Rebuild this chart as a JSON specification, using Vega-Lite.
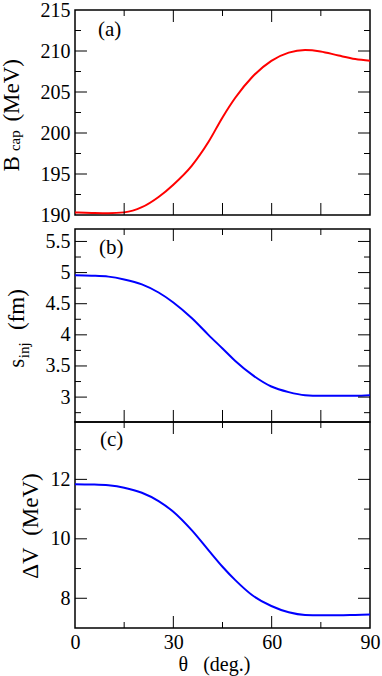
{
  "$schema": "https://vega.github.io/schema/vega-lite/v6.json",
  "padding": {"left": -1, "top": -1, "right": 2, "bottom": 0},
  "background": "white",
  "data": {"values": [
    {"theta": 0, "B": 190.3, "s": 4.957, "dV": 11.84},
    {"theta": 5.1, "B": 190.25, "s": 4.95, "dV": 11.83},
    {"theta": 10.2, "B": 190.22, "s": 4.935, "dV": 11.8},
    {"theta": 15, "B": 190.32, "s": 4.89, "dV": 11.72},
    {"theta": 20.4, "B": 190.95, "s": 4.81, "dV": 11.55},
    {"theta": 25.5, "B": 192.2, "s": 4.68, "dV": 11.27},
    {"theta": 30, "B": 193.7, "s": 4.52, "dV": 10.91},
    {"theta": 35.6, "B": 196.0, "s": 4.27, "dV": 10.29},
    {"theta": 40.7, "B": 198.9, "s": 4.0, "dV": 9.62},
    {"theta": 45, "B": 201.9, "s": 3.78, "dV": 9.06},
    {"theta": 48.9, "B": 204.3, "s": 3.58, "dV": 8.61},
    {"theta": 54, "B": 206.8, "s": 3.36, "dV": 8.11},
    {"theta": 59.9, "B": 208.8, "s": 3.17, "dV": 7.74},
    {"theta": 65.2, "B": 209.8, "s": 3.08, "dV": 7.53},
    {"theta": 70.2, "B": 210.12, "s": 3.03, "dV": 7.44},
    {"theta": 74.9, "B": 209.95, "s": 3.02, "dV": 7.43},
    {"theta": 80.4, "B": 209.45, "s": 3.02, "dV": 7.43},
    {"theta": 85.5, "B": 209.03, "s": 3.02, "dV": 7.44},
    {"theta": 90, "B": 208.82, "s": 3.03, "dV": 7.45}
  ]},
  "config": {
    "font": "Liberation Serif",
    "view": {"stroke": "black", "strokeWidth": 1.5},
    "point": {"filled": false, "stroke": "black", "strokeWidth": 1, "opacity": 1},
    "axis": {
      "labelFont": "Liberation Serif", "titleFont": "Liberation Serif",
      "labelColor": "black", "titleColor": "black",
      "titleFontWeight": "normal", "grid": false, "domain": false, "ticks": false,
      "labelFontSize": 20, "titleFontSize": 23
    }
  },
  "bounds": "flush",
  "spacing": 14,
  "vconcat": [
    {
      "width": 295, "height": 205,
      "resolve": {"axis": {"x": "independent", "y": "independent"}},
      "layer": [
        {
          "mark": {"type": "line", "color": "#ff0000", "strokeWidth": 2, "interpolate": "monotone"},
          "encoding": {
            "x": {"field": "theta", "type": "quantitative", "scale": {"domain": [0, 90], "nice": false, "zero": false}, "axis": null},
            "y": {"field": "B", "type": "quantitative", "scale": {"domain": [190, 215], "nice": false, "zero": false},
              "axis": {"orient": "left", "values": [190, 195, 200, 205, 210, 215], "labelPadding": 5,
                "title": "B\u00a0\u00a0\u00a0\u00a0\u00a0\u00a0(MeV)", "titleX": -56.7, "titleY": 104.7, "titleBaseline": "alphabetic", "titleAngle": 270, "titleAlign": "center"}}
          }
        },
        {
          "data": {"values": [{"value": 195}, {"value": 200}, {"value": 205}, {"value": 210}]},
          "mark": {"type": "point", "shape": "M-1,0L1,0", "size": 144, "filled": false, "stroke": "black", "strokeWidth": 1, "opacity": 1},
          "encoding": {
            "x": {"datum": 1.83, "type": "quantitative", "scale": {"domain": [0, 90], "nice": false, "zero": false}, "axis": null},
            "y": {"field": "value", "type": "quantitative", "scale": {"domain": [190, 215], "nice": false, "zero": false}, "axis": null}
          }
        },
        {
          "data": {"values": [{"value": 195}, {"value": 200}, {"value": 205}, {"value": 210}]},
          "mark": {"type": "point", "shape": "M-1,0L1,0", "size": 144, "filled": false, "stroke": "black", "strokeWidth": 1, "opacity": 1},
          "encoding": {
            "x": {"datum": 88.17, "type": "quantitative", "scale": {"domain": [0, 90], "nice": false, "zero": false}, "axis": null},
            "y": {"field": "value", "type": "quantitative", "scale": {"domain": [190, 215], "nice": false, "zero": false}, "axis": null}
          }
        },
        {
          "data": {"values": [{"value": 192.5}, {"value": 197.5}, {"value": 202.5}, {"value": 207.5}, {"value": 212.5}]},
          "mark": {"type": "point", "shape": "M-1,0L1,0", "size": 36, "filled": false, "stroke": "black", "strokeWidth": 1, "opacity": 1},
          "encoding": {
            "x": {"datum": 0.915, "type": "quantitative", "scale": {"domain": [0, 90], "nice": false, "zero": false}, "axis": null},
            "y": {"field": "value", "type": "quantitative", "scale": {"domain": [190, 215], "nice": false, "zero": false}, "axis": null}
          }
        },
        {
          "data": {"values": [{"value": 192.5}, {"value": 197.5}, {"value": 202.5}, {"value": 207.5}, {"value": 212.5}]},
          "mark": {"type": "point", "shape": "M-1,0L1,0", "size": 36, "filled": false, "stroke": "black", "strokeWidth": 1, "opacity": 1},
          "encoding": {
            "x": {"datum": 89.085, "type": "quantitative", "scale": {"domain": [0, 90], "nice": false, "zero": false}, "axis": null},
            "y": {"field": "value", "type": "quantitative", "scale": {"domain": [190, 215], "nice": false, "zero": false}, "axis": null}
          }
        },
        {
          "data": {"values": [{"value": 15}, {"value": 30}, {"value": 45}, {"value": 60}, {"value": 75}]},
          "mark": {"type": "point", "shape": "M0,-1L0,1", "size": 144, "filled": false, "stroke": "black", "strokeWidth": 1, "opacity": 1},
          "encoding": {
            "x": {"field": "value", "type": "quantitative", "scale": {"domain": [0, 90], "nice": false, "zero": false}, "axis": null},
            "y": {"datum": 190.732, "type": "quantitative", "scale": {"domain": [190, 215], "nice": false, "zero": false}, "axis": null}
          }
        },
        {
          "data": {"values": [{"value": 30}, {"value": 60}]},
          "mark": {"type": "point", "shape": "M0,-1L0,1", "size": 144, "filled": false, "stroke": "black", "strokeWidth": 1, "opacity": 1},
          "encoding": {
            "x": {"field": "value", "type": "quantitative", "scale": {"domain": [0, 90], "nice": false, "zero": false}, "axis": null},
            "y": {"datum": 214.268, "type": "quantitative", "scale": {"domain": [190, 215], "nice": false, "zero": false}, "axis": null}
          }
        },
        {
          "data": {"values": [{"value": 15}, {"value": 45}, {"value": 75}]},
          "mark": {"type": "point", "shape": "M0,-1L0,1", "size": 36, "filled": false, "stroke": "black", "strokeWidth": 1, "opacity": 1},
          "encoding": {
            "x": {"field": "value", "type": "quantitative", "scale": {"domain": [0, 90], "nice": false, "zero": false}, "axis": null},
            "y": {"datum": 214.634, "type": "quantitative", "scale": {"domain": [190, 215], "nice": false, "zero": false}, "axis": null}
          }
        },
        {
          "data": {"values": [{"label": "(a)"}]},
          "mark": {"type": "text", "font": "Liberation Serif", "fontSize": 21, "align": "left", "baseline": "middle", "color": "black"},
          "encoding": {
            "x": {"datum": 7.0, "type": "quantitative", "scale": {"domain": [0, 90], "nice": false, "zero": false}, "axis": null},
            "y": {"datum": 212.6, "type": "quantitative", "scale": {"domain": [190, 215], "nice": false, "zero": false}, "axis": null},
            "text": {"field": "label"}
          }
        },
        {
          "data": {"values": [{"label": "cap"}]},
          "mark": {"type": "text", "font": "Liberation Serif", "fontSize": 15, "align": "center", "baseline": "alphabetic", "angle": 270, "color": "black"},
          "encoding": {
            "x": {"datum": -16.66, "type": "quantitative", "scale": {"domain": [0, 90], "nice": false, "zero": false}, "axis": null},
            "y": {"datum": 199.06, "type": "quantitative", "scale": {"domain": [190, 215], "nice": false, "zero": false}, "axis": null},
            "text": {"field": "label"}
          }
        }
      ]
    },
    {
      "bounds": "flush",
      "spacing": 0,
      "vconcat": [
        {
          "width": 295, "height": 193,
          "resolve": {"axis": {"x": "independent", "y": "independent"}},
          "layer": [
            {
              "mark": {"type": "line", "color": "#0000ff", "strokeWidth": 2, "interpolate": "monotone"},
              "encoding": {
                "x": {"field": "theta", "type": "quantitative", "scale": {"domain": [0, 90], "nice": false, "zero": false}, "axis": null},
                "y": {"field": "s", "type": "quantitative", "scale": {"domain": [2.6, 5.7], "nice": false, "zero": false},
                  "axis": {"orient": "left", "values": [3, 3.5, 4, 4.5, 5, 5.5], "format": "~g", "labelPadding": 5,
                    "title": "s\u00a0\u00a0\u00a0\u00a0\u00a0(fm)", "titleX": -52, "titleY": 99, "titleBaseline": "alphabetic", "titleAngle": 270, "titleAlign": "center"}}
              }
            },
            {
              "data": {"values": [{"value": 3}, {"value": 3.5}, {"value": 4}, {"value": 4.5}, {"value": 5}, {"value": 5.5}]},
              "mark": {"type": "point", "shape": "M-1,0L1,0", "size": 144, "filled": false, "stroke": "black", "strokeWidth": 1, "opacity": 1},
              "encoding": {
                "x": {"datum": 1.83, "type": "quantitative", "scale": {"domain": [0, 90], "nice": false, "zero": false}, "axis": null},
                "y": {"field": "value", "type": "quantitative", "scale": {"domain": [2.6, 5.7], "nice": false, "zero": false}, "axis": null}
              }
            },
            {
              "data": {"values": [{"value": 3}, {"value": 3.5}, {"value": 4}, {"value": 4.5}, {"value": 5}, {"value": 5.5}]},
              "mark": {"type": "point", "shape": "M-1,0L1,0", "size": 144, "filled": false, "stroke": "black", "strokeWidth": 1, "opacity": 1},
              "encoding": {
                "x": {"datum": 88.17, "type": "quantitative", "scale": {"domain": [0, 90], "nice": false, "zero": false}, "axis": null},
                "y": {"field": "value", "type": "quantitative", "scale": {"domain": [2.6, 5.7], "nice": false, "zero": false}, "axis": null}
              }
            },
            {
              "data": {"values": [{"value": 2.75}, {"value": 3.25}, {"value": 3.75}, {"value": 4.25}, {"value": 4.75}, {"value": 5.25}]},
              "mark": {"type": "point", "shape": "M-1,0L1,0", "size": 36, "filled": false, "stroke": "black", "strokeWidth": 1, "opacity": 1},
              "encoding": {
                "x": {"datum": 0.915, "type": "quantitative", "scale": {"domain": [0, 90], "nice": false, "zero": false}, "axis": null},
                "y": {"field": "value", "type": "quantitative", "scale": {"domain": [2.6, 5.7], "nice": false, "zero": false}, "axis": null}
              }
            },
            {
              "data": {"values": [{"value": 2.75}, {"value": 3.25}, {"value": 3.75}, {"value": 4.25}, {"value": 4.75}, {"value": 5.25}]},
              "mark": {"type": "point", "shape": "M-1,0L1,0", "size": 36, "filled": false, "stroke": "black", "strokeWidth": 1, "opacity": 1},
              "encoding": {
                "x": {"datum": 89.085, "type": "quantitative", "scale": {"domain": [0, 90], "nice": false, "zero": false}, "axis": null},
                "y": {"field": "value", "type": "quantitative", "scale": {"domain": [2.6, 5.7], "nice": false, "zero": false}, "axis": null}
              }
            },
            {
              "data": {"values": [{"value": 15}, {"value": 30}, {"value": 45}, {"value": 60}, {"value": 75}]},
              "mark": {"type": "point", "shape": "M0,-1L0,1", "size": 144, "filled": false, "stroke": "black", "strokeWidth": 1, "opacity": 1},
              "encoding": {
                "x": {"field": "value", "type": "quantitative", "scale": {"domain": [0, 90], "nice": false, "zero": false}, "axis": null},
                "y": {"datum": 2.6964, "type": "quantitative", "scale": {"domain": [2.6, 5.7], "nice": false, "zero": false}, "axis": null}
              }
            },
            {
              "data": {"values": [{"value": 30}, {"value": 60}]},
              "mark": {"type": "point", "shape": "M0,-1L0,1", "size": 144, "filled": false, "stroke": "black", "strokeWidth": 1, "opacity": 1},
              "encoding": {
                "x": {"field": "value", "type": "quantitative", "scale": {"domain": [0, 90], "nice": false, "zero": false}, "axis": null},
                "y": {"datum": 5.6036, "type": "quantitative", "scale": {"domain": [2.6, 5.7], "nice": false, "zero": false}, "axis": null}
              }
            },
            {
              "data": {"values": [{"value": 15}, {"value": 45}, {"value": 75}]},
              "mark": {"type": "point", "shape": "M0,-1L0,1", "size": 36, "filled": false, "stroke": "black", "strokeWidth": 1, "opacity": 1},
              "encoding": {
                "x": {"field": "value", "type": "quantitative", "scale": {"domain": [0, 90], "nice": false, "zero": false}, "axis": null},
                "y": {"datum": 5.6518, "type": "quantitative", "scale": {"domain": [2.6, 5.7], "nice": false, "zero": false}, "axis": null}
              }
            },
            {
              "data": {"values": [{"label": "(b)"}]},
              "mark": {"type": "text", "font": "Liberation Serif", "fontSize": 21, "align": "left", "baseline": "middle", "color": "black"},
              "encoding": {
                "x": {"datum": 7.3, "type": "quantitative", "scale": {"domain": [0, 90], "nice": false, "zero": false}, "axis": null},
                "y": {"datum": 5.4, "type": "quantitative", "scale": {"domain": [2.6, 5.7], "nice": false, "zero": false}, "axis": null},
                "text": {"field": "label"}
              }
            },
            {
              "data": {"values": [{"label": "inj"}]},
              "mark": {"type": "text", "font": "Liberation Serif", "fontSize": 15, "align": "center", "baseline": "alphabetic", "angle": 270, "color": "black"},
              "encoding": {
                "x": {"datum": -14.06, "type": "quantitative", "scale": {"domain": [0, 90], "nice": false, "zero": false}, "axis": null},
                "y": {"datum": 3.753, "type": "quantitative", "scale": {"domain": [2.6, 5.7], "nice": false, "zero": false}, "axis": null},
                "text": {"field": "label"}
              }
            }
          ]
        },
        {
          "width": 295, "height": 206,
          "resolve": {"axis": {"x": "independent", "y": "independent"}},
          "layer": [
            {
              "mark": {"type": "line", "color": "#0000ff", "strokeWidth": 2, "interpolate": "monotone"},
              "encoding": {
                "x": {"field": "theta", "type": "quantitative", "scale": {"domain": [0, 90], "nice": false, "zero": false},
                  "axis": {"orient": "bottom", "values": [0, 30, 60, 90], "labelPadding": 4, "labelFlush": false,
                    "title": "\u03b8\u00a0\u00a0\u00a0(deg.)", "titleFontSize": 20, "titleX": 139, "titleY": 42.3, "titleBaseline": "alphabetic", "titleAlign": "center"}},
                "y": {"field": "dV", "type": "quantitative", "scale": {"domain": [7, 13.93], "nice": false, "zero": false},
                  "axis": {"orient": "left", "values": [8, 10, 12], "labelPadding": 5,
                    "title": "\u0394V\u00a0\u00a0(MeV)", "titleX": -38, "titleY": 103.5, "titleBaseline": "alphabetic", "titleAngle": 270, "titleAlign": "center"}}
              }
            },
            {
              "data": {"values": [{"value": 8}, {"value": 10}, {"value": 12}]},
              "mark": {"type": "point", "shape": "M-1,0L1,0", "size": 144, "filled": false, "stroke": "black", "strokeWidth": 1, "opacity": 1},
              "encoding": {
                "x": {"datum": 1.83, "type": "quantitative", "scale": {"domain": [0, 90], "nice": false, "zero": false}, "axis": null},
                "y": {"field": "value", "type": "quantitative", "scale": {"domain": [7, 13.93], "nice": false, "zero": false}, "axis": null}
              }
            },
            {
              "data": {"values": [{"value": 8}, {"value": 10}, {"value": 12}]},
              "mark": {"type": "point", "shape": "M-1,0L1,0", "size": 144, "filled": false, "stroke": "black", "strokeWidth": 1, "opacity": 1},
              "encoding": {
                "x": {"datum": 88.17, "type": "quantitative", "scale": {"domain": [0, 90], "nice": false, "zero": false}, "axis": null},
                "y": {"field": "value", "type": "quantitative", "scale": {"domain": [7, 13.93], "nice": false, "zero": false}, "axis": null}
              }
            },
            {
              "data": {"values": [{"value": 9}, {"value": 11}, {"value": 13}]},
              "mark": {"type": "point", "shape": "M-1,0L1,0", "size": 36, "filled": false, "stroke": "black", "strokeWidth": 1, "opacity": 1},
              "encoding": {
                "x": {"datum": 0.915, "type": "quantitative", "scale": {"domain": [0, 90], "nice": false, "zero": false}, "axis": null},
                "y": {"field": "value", "type": "quantitative", "scale": {"domain": [7, 13.93], "nice": false, "zero": false}, "axis": null}
              }
            },
            {
              "data": {"values": [{"value": 9}, {"value": 11}, {"value": 13}]},
              "mark": {"type": "point", "shape": "M-1,0L1,0", "size": 36, "filled": false, "stroke": "black", "strokeWidth": 1, "opacity": 1},
              "encoding": {
                "x": {"datum": 89.085, "type": "quantitative", "scale": {"domain": [0, 90], "nice": false, "zero": false}, "axis": null},
                "y": {"field": "value", "type": "quantitative", "scale": {"domain": [7, 13.93], "nice": false, "zero": false}, "axis": null}
              }
            },
            {
              "data": {"values": [{"value": 30}, {"value": 60}]},
              "mark": {"type": "point", "shape": "M0,-1L0,1", "size": 144, "filled": false, "stroke": "black", "strokeWidth": 1, "opacity": 1},
              "encoding": {
                "x": {"field": "value", "type": "quantitative", "scale": {"domain": [0, 90], "nice": false, "zero": false}, "axis": null},
                "y": {"datum": 7.2018, "type": "quantitative", "scale": {"domain": [7, 13.93], "nice": false, "zero": false}, "axis": null}
              }
            },
            {
              "data": {"values": [{"value": 15}, {"value": 45}, {"value": 75}]},
              "mark": {"type": "point", "shape": "M0,-1L0,1", "size": 36, "filled": false, "stroke": "black", "strokeWidth": 1, "opacity": 1},
              "encoding": {
                "x": {"field": "value", "type": "quantitative", "scale": {"domain": [0, 90], "nice": false, "zero": false}, "axis": null},
                "y": {"datum": 7.1009, "type": "quantitative", "scale": {"domain": [7, 13.93], "nice": false, "zero": false}, "axis": null}
              }
            },
            {
              "data": {"values": [{"value": 30}, {"value": 60}]},
              "mark": {"type": "point", "shape": "M0,-1L0,1", "size": 144, "filled": false, "stroke": "black", "strokeWidth": 1, "opacity": 1},
              "encoding": {
                "x": {"field": "value", "type": "quantitative", "scale": {"domain": [0, 90], "nice": false, "zero": false}, "axis": null},
                "y": {"datum": 13.7282, "type": "quantitative", "scale": {"domain": [7, 13.93], "nice": false, "zero": false}, "axis": null}
              }
            },
            {
              "data": {"values": [{"value": 15}, {"value": 45}, {"value": 75}]},
              "mark": {"type": "point", "shape": "M0,-1L0,1", "size": 36, "filled": false, "stroke": "black", "strokeWidth": 1, "opacity": 1},
              "encoding": {
                "x": {"field": "value", "type": "quantitative", "scale": {"domain": [0, 90], "nice": false, "zero": false}, "axis": null},
                "y": {"datum": 13.8291, "type": "quantitative", "scale": {"domain": [7, 13.93], "nice": false, "zero": false}, "axis": null}
              }
            },
            {
              "data": {"values": [{"label": "(c)"}]},
              "mark": {"type": "text", "font": "Liberation Serif", "fontSize": 21, "align": "left", "baseline": "middle", "color": "black"},
              "encoding": {
                "x": {"datum": 7.6, "type": "quantitative", "scale": {"domain": [0, 90], "nice": false, "zero": false}, "axis": null},
                "y": {"datum": 13.34, "type": "quantitative", "scale": {"domain": [7, 13.93], "nice": false, "zero": false}, "axis": null},
                "text": {"field": "label"}
              }
            }
          ]
        }
      ]
    }
  ]
}
